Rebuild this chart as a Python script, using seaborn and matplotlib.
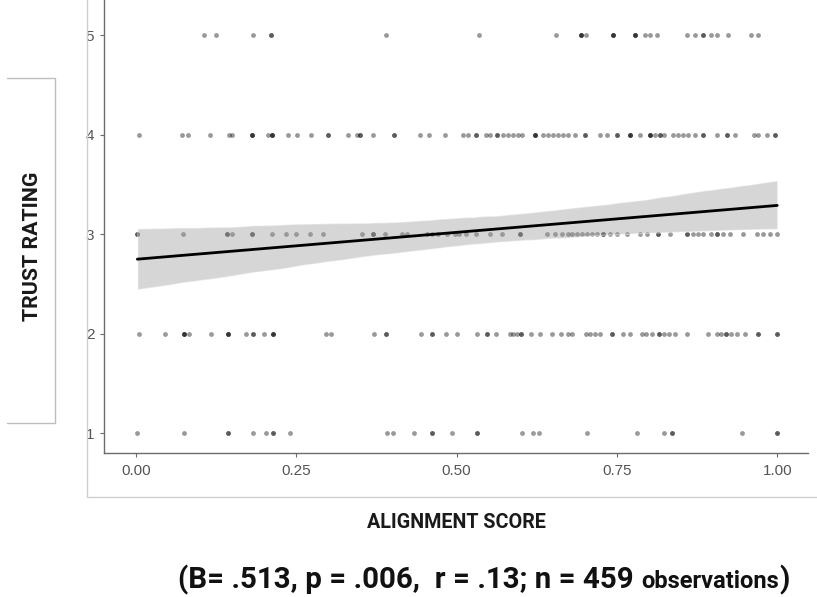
import numpy as np
import pandas as pd
import matplotlib
matplotlib.use("Agg")
import matplotlib.pyplot as plt
from matplotlib.lines import Line2D
import seaborn as sns

# ---- data (alignment score per trust rating; repeats = overlapping points)
rating5 = [0.106, 0.124, 0.182, 0.210, 0.210, 0.390, 0.535, 0.655, 0.694, 0.694, 0.694,
           0.702, 0.744, 0.744, 0.744, 0.778, 0.778, 0.778, 0.794, 0.802, 0.813, 0.859,
           0.872, 0.885, 0.885, 0.897, 0.906, 0.924, 0.959, 0.970]
rating4 = [0.005, 0.072, 0.081, 0.115, 0.145, 0.150, 0.181, 0.181, 0.181, 0.206, 0.212,
           0.212, 0.212, 0.237, 0.251, 0.273, 0.300, 0.300, 0.331, 0.345, 0.349, 0.349,
           0.370, 0.402, 0.402, 0.443, 0.457, 0.482,
           0.510, 0.518, 0.530, 0.530, 0.546, 0.552, 0.563, 0.563, 0.573, 0.580, 0.588,
           0.596, 0.602, 0.622, 0.622, 0.622, 0.635, 0.643, 0.651, 0.658, 0.666, 0.674,
           0.685, 0.700, 0.700, 0.724, 0.735, 0.750, 0.750, 0.771, 0.771, 0.771, 0.786,
           0.802, 0.802, 0.802, 0.810, 0.817, 0.817, 0.824, 0.838, 0.846, 0.853, 0.861,
           0.872, 0.885, 0.885, 0.906, 0.922, 0.922, 0.934, 0.963, 0.970, 0.984,
           0.997, 0.997]
rating3 = [0.002, 0.002, 0.073, 0.142, 0.142, 0.150, 0.181, 0.181, 0.212, 0.234, 0.250,
           0.271, 0.292, 0.353, 0.370, 0.370, 0.388, 0.415, 0.423, 0.454, 0.462, 0.471,
           0.485, 0.497, 0.503, 0.515, 0.530, 0.552, 0.571, 0.599, 0.599, 0.641, 0.654,
           0.665, 0.673, 0.680, 0.688, 0.696, 0.704, 0.711, 0.719, 0.728, 0.728, 0.739,
           0.750, 0.766, 0.786, 0.797, 0.814, 0.814, 0.833, 0.860, 0.860, 0.869, 0.877,
           0.885, 0.896, 0.906, 0.906, 0.916, 0.927, 0.947, 0.969, 0.978, 0.989, 1.000]
rating2 = [0.004, 0.045, 0.074, 0.074, 0.074, 0.083, 0.117, 0.144, 0.144, 0.144, 0.171,
           0.182, 0.182, 0.200, 0.214, 0.214, 0.214, 0.296, 0.304, 0.371, 0.390, 0.390,
           0.445, 0.461, 0.461, 0.484, 0.501, 0.531, 0.547, 0.547, 0.562, 0.583, 0.588,
           0.594, 0.601, 0.601, 0.616, 0.630, 0.648, 0.662, 0.673, 0.680, 0.702, 0.708,
           0.716, 0.723, 0.743, 0.743, 0.759, 0.770, 0.789, 0.796, 0.805, 0.815, 0.815,
           0.823, 0.831, 0.841, 0.859, 0.892, 0.906, 0.913, 0.920, 0.920, 0.928, 0.938,
           0.949, 0.970, 0.970, 1.000, 1.000]
rating1 = [0.002, 0.074, 0.144, 0.144, 0.183, 0.203, 0.214, 0.214, 0.240, 0.392, 0.400,
           0.434, 0.461, 0.461, 0.492, 0.531, 0.531, 0.602, 0.619, 0.628, 0.703, 0.782,
           0.823, 0.836, 0.836, 0.945, 1.000, 1.000]

x_ticks = [0.00, 0.25, 0.50, 0.75, 1.00]
x_ticklabels = ["0.00", "0.25", "0.50", "0.75", "1.00"]
y_ticks = [1, 2, 3, 4, 5]

x_label = "ALIGNMENT SCORE"
y_label = "TRUST RATING"
stats_main = "(B= .513, p = .006,  r = .13; n = 459 "
stats_small = "observations"
stats_end = ")"

rows = []
for r, xs in zip([1, 2, 3, 4, 5], [rating1, rating2, rating3, rating4, rating5]):
    for xv in xs:
        rows.append({"alignment": xv, "trust": r})
df = pd.DataFrame(rows)

sns.set_style("white")
TICKFONT = ["Liberation Sans", "DejaVu Sans"]
LABFONT = ["Roboto", "DejaVu Sans"]

W, H = 817, 597
fig = plt.figure(figsize=(W / 100, H / 100), dpi=100)
ax = fig.add_axes([104 / W, 1 - 453 / H, (808 - 104) / W, 453 / H])

sns.scatterplot(data=df, x="alignment", y="trust", color="black", alpha=0.4,
                s=12, linewidth=0, ax=ax, zorder=2)
sns.regplot(data=df, x="alignment", y="trust", scatter=False, ax=ax, ci=95, seed=0,
            color="black", line_kws={"lw": 2.0, "zorder": 4})
for coll in ax.collections[1:]:
    coll.set_facecolor("#999999")
    coll.set_alpha(0.4)
    coll.set_zorder(3)

ax.set_xlim(-0.05, 1.048)
ax.set_ylim(0.8, 5.352)
ax.set_xticks(x_ticks)
ax.set_xticklabels(x_ticklabels)
ax.set_yticks(y_ticks)
ax.set_xlabel("")
ax.set_ylabel("")
for s in ["top", "right"]:
    ax.spines[s].set_visible(False)
for s in ["left", "bottom"]:
    ax.spines[s].set_color("#6b6b6b")
    ax.spines[s].set_linewidth(1.0)
ax.tick_params(axis="both", length=3, width=0.8, color="#6b6b6b", labelcolor="#555555",
               labelsize=11, bottom=True, left=True)
ax.tick_params(axis="x", pad=5)
ax.tick_params(axis="y", pad=4)
for lab in ax.get_xticklabels() + ax.get_yticklabels():
    lab.set_family(TICKFONT)

# bracket box around y label and panel border
def fl(xs, ys, c):
    fig.add_artist(Line2D([v / W for v in xs], [1 - v / H for v in ys], color=c, lw=1.0))
fl([7, 55, 55, 7], [78, 78, 423, 423], "#bdbdbd")
fl([87, 87, 817], [0, 497, 497], "#cfcfcf")

fig.canvas.draw()
rend = fig.canvas.get_renderer()

def fitted_text(x, y, s, target_px, size0, **kw):
    t = fig.text(x, y, s, fontsize=size0, **kw)
    bb = t.get_window_extent(rend)
    ext = bb.height if kw.get("rotation") == 90 else bb.width
    t.set_fontsize(size0 * target_px / ext)
    return t

fitted_text(456 / W, 1 - 523 / H, x_label, 180, 14, ha="center", va="center",
            fontweight="bold", family=LABFONT, color="#1a1a1a")
fitted_text(33 / W, 1 - 246 / H, y_label, 150, 14, ha="center", va="center",
            rotation=90, fontweight="bold", family=LABFONT, color="#1a1a1a")

# stats line with smaller "observations", centred under the figure
size_big, size_small = 15, 12
ybase = 1 - 588 / H
parts = []
for s, sz in [(stats_main, size_big), (stats_small, size_small), (stats_end, size_big)]:
    parts.append(fig.text(0, ybase, s, ha="left", va="baseline", fontsize=sz,
                          fontweight="bold", family=LABFONT, color="#111111"))
widths = [p.get_window_extent(rend).width for p in parts]
scale = 612 / sum(widths)
for p in parts:
    p.set_fontsize(p.get_fontsize() * scale)
widths = [p.get_window_extent(rend).width for p in parts]
xcur = 484 - sum(widths) / 2
for p, w in zip(parts, widths):
    p.set_x(xcur / W)
    xcur += w

fig.savefig("out.png", dpi=100)
